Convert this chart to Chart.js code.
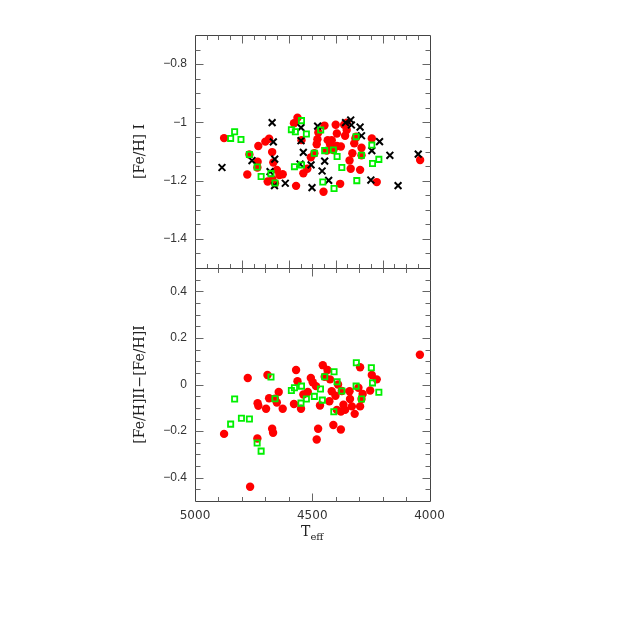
<!DOCTYPE html>
<html>
<head>
<meta charset="utf-8">
<title>[Fe/H] vs Teff</title>
<script src="https://cdn.jsdelivr.net/npm/chart.js@4.4.1/dist/chart.umd.min.js"></script>
<style>
  body { margin: 0; background: #fff; }
  #wrap { position: relative; width: 638px; height: 638px; }
  #wrap canvas { position: absolute; left: 0; top: 0; }
</style>
</head>
<body>
<div id="wrap">
  <canvas id="topChart" width="638" height="638"></canvas>
  <canvas id="botChart" width="638" height="638"></canvas>
</div>
<script>
// upper panel: [Fe/H] from Fe I lines
const topRedTeff = [4876, 4777, 4730, 4700, 4684, 4671, 4666, 4733, 4734, 4768, 4690, 4670, 4651, 4640,
  4626, 4659, 4569, 4563, 4578, 4546, 4538, 4506, 4521, 4481, 4478, 4474, 4448, 4452, 4434, 4424,
  4417, 4400, 4395, 4395, 4378, 4381, 4364, 4353, 4360, 4341, 4336, 4329, 4296, 4321, 4316, 4290,
  4246, 4225, 4040, 4410, 4491, 4290, 4313, 4438, 4353];
const topRedFe = [-1.054, -1.179, -1.081, -1.066, -1.056, -1.102, -1.138, -1.135, -1.155, -1.110, -1.203, -1.195, -1.163, -1.181,
  -1.178, -1.209, -1.218, -0.984, -1.003, -1.061, -1.175, -1.120, -1.159, -1.075, -1.058, -1.035, -1.011, -1.238, -1.061, -1.075,
  -1.061, -1.008, -1.038, -1.081, -1.083, -1.211, -1.008, -1.026, -1.046, -1.131, -1.159, -1.106, -1.163, -1.072, -1.055, -1.087,
  -1.055, -1.205, -1.129, -1.095, -1.106, -1.113, -1.049, -1.097, -1.001];

const topBlackTeff = [4885, 4671, 4666, 4757, 4660, 4680, 4661, 4615, 4548, 4548, 4538, 4552, 4505, 4501, 4477,
  4447, 4458, 4430, 4358, 4336, 4333, 4296, 4290, 4213, 4246, 4250, 4169, 4134, 4048];
const topBlackFe = [-1.155, -1.001, -1.067, -1.131, -1.126, -1.169, -1.217, -1.209, -1.018, -1.063, -1.103, -1.143, -1.146, -1.224, -1.013,
  -1.133, -1.167, -1.199, -1.001, -0.992, -1.009, -1.016, -1.046, -1.066, -1.097, -1.198, -1.113, -1.217, -1.109];

const topGreenTeff = [4848, 4831, 4804, 4768, 4735, 4718, 4676, 4659, 4589, 4572, 4546, 4525, 4576, 4546,
  4491, 4464, 4447, 4410, 4394, 4374, 4455, 4407, 4313, 4310, 4290, 4246, 4243, 4216];
const topGreenFe = [-1.055, -1.032, -1.059, -1.110, -1.153, -1.186, -1.176, -1.208, -1.025, -1.032, -0.994, -1.040, -1.152, -1.146,
  -1.106, -1.026, -1.097, -1.095, -1.117, -1.155, -1.205, -1.227, -1.049, -1.200, -1.113, -1.078, -1.141, -1.127];

// lower panel: [Fe/H]II - [Fe/H]I
const botRedTeff = [4041, 4775, 4691, 4876, 4765, 4733, 4730, 4697, 4734, 4671, 4667, 4684, 4651, 4643,
  4626, 4569, 4563, 4578, 4548, 4538, 4519, 4506, 4498, 4484, 4467, 4475, 4481, 4455, 4435, 4424,
  4417, 4427, 4401, 4390, 4395, 4378, 4410, 4378, 4367, 4360, 4341, 4339, 4331, 4319, 4296, 4285,
  4296, 4253, 4246, 4225, 4447, 4374, 4659, 4290, 4303];
const botRedDiff = [0.128, 0.028, 0.041, -0.212, -0.439, -0.080, -0.091, -0.104, -0.232, -0.190, -0.207, -0.059, -0.077, -0.032,
  -0.104, 0.062, 0.014, -0.084, -0.104, -0.043, -0.032, 0.028, 0.010, -0.007, -0.090, -0.190, -0.236, 0.083, 0.062, 0.022,
  -0.029, -0.072, -0.048, 0.000, -0.109, -0.116, -0.174, -0.193, -0.087, -0.109, -0.029, -0.062, -0.094, -0.126, 0.074, -0.041,
  -0.094, -0.026, 0.041, 0.022, 0.033, -0.028, -0.061, -0.062, -0.014];

const botGreenTeff = [4831, 4848, 4802, 4768, 4735, 4718, 4676, 4659, 4589, 4576, 4546, 4525, 4548, 4491,
  4465, 4457, 4447, 4407, 4394, 4374, 4408, 4312, 4313, 4290, 4248, 4243, 4216];
const botGreenDiff = [-0.062, -0.170, -0.145, -0.148, -0.251, -0.286, 0.032, -0.061, -0.026, -0.014, -0.007, -0.062, -0.080, -0.051,
  -0.019, -0.067, 0.033, 0.055, 0.012, -0.028, -0.117, 0.093, -0.007, -0.062, 0.072, 0.007, -0.033];

// tick labels
const xTicks = [5000, 4500, 4000];
const xTickLabels = ['5000', '4500', '4000'];
const topYTicks = [-0.8, -1, -1.2, -1.4];
const topYTickLabels = ['\u22120.8', '\u22121', '\u22121.2', '\u22121.4'];
const botYTicks = [0.4, 0.2, 0, -0.2, -0.4];
const botYTickLabels = ['0.4', '0.2', '0', '\u22120.2', '\u22120.4'];

function pts(xs, ys) {
  return xs.map((x, i) => ({ x: x, y: ys[i] }));
}

function steps(min, max, step) {
  const out = [];
  for (let i = Math.ceil(min / step - 1e-9); i <= Math.floor(max / step + 1e-9); i++) out.push(i * step);
  return out;
}

function isMult(v, m) {
  const r = v / m;
  return Math.abs(r - Math.round(r)) < 1e-6;
}

// frame with inward ticks on all four sides, plus axis titles
const framePlugin = {
  id: 'frame',
  afterDraw(chart, args, o) {
    const ctx = chart.ctx;
    const a = chart.chartArea;
    const xs = chart.scales.x, ys = chart.scales.y;
    const L = Math.round(a.left) + 0.5, R = Math.round(a.right) + 0.5;
    const T = Math.round(a.top) + 0.5, B = Math.round(a.bottom) + 0.5;
    ctx.save();
    ctx.strokeStyle = '#444';
    ctx.lineWidth = 1;
    ctx.beginPath();
    ctx.rect(L, T, R - L, B - T);
    ctx.stroke();

    ctx.strokeStyle = '#666';
    ctx.beginPath();
    steps(xs.min, xs.max, o.xMinor).forEach(v => {
      if (v === xs.min || v === xs.max) return;
      const p = Math.round(xs.getPixelForValue(v)) + 0.5;
      const len = isMult(v, o.xMajor) ? 8 : 4.5;
      ctx.moveTo(p, B); ctx.lineTo(p, B - len);
      ctx.moveTo(p, T); ctx.lineTo(p, T + len);
    });
    steps(ys.min, ys.max, o.yMinor).forEach(v => {
      const p = Math.round(ys.getPixelForValue(v)) + 0.5;
      if (Math.abs(p - T) < 1 || Math.abs(p - B) < 1) return;
      const len = isMult(v, o.yMajor) ? 8 : 5;
      ctx.moveTo(L, p); ctx.lineTo(L + len, p);
      ctx.moveTo(R, p); ctx.lineTo(R - len, p);
    });
    ctx.stroke();

    // y title
    ctx.fillStyle = '#222';
    ctx.font = '14px "DejaVu Serif"';
    ctx.textAlign = 'center';
    ctx.textBaseline = 'middle';
    ctx.translate(o.yTitleX, (a.top + a.bottom) / 2);
    ctx.rotate(-Math.PI / 2);
    ctx.fillText(o.yTitle, 0, 0);
    ctx.restore();

    // x title T_eff
    if (o.xTitle) {
      ctx.save();
      ctx.fillStyle = '#222';
      ctx.textBaseline = 'alphabetic';
      ctx.textAlign = 'left';
      ctx.font = '14px "DejaVu Serif"';
      const w1 = ctx.measureText(o.xTitle).width;
      ctx.font = '10px "DejaVu Serif"';
      const w2 = ctx.measureText(o.xTitleSub).width;
      const x0 = (a.left + a.right) / 2 - (w1 + w2) / 2;
      ctx.font = '14px "DejaVu Serif"';
      ctx.fillText(o.xTitle, x0, 536);
      ctx.font = '10px "DejaVu Serif"';
      ctx.fillText(o.xTitleSub, x0 + w1, 540);
      ctx.restore();
    }
  }
};

const redSet = (data) => ({
  data: data, order: 3, pointStyle: 'circle', pointRadius: 4.2,
  backgroundColor: '#ff0000', borderColor: '#ff0000', borderWidth: 0
});
const blackSet = (data) => ({
  data: data, order: 2, pointStyle: 'crossRot', pointRadius: 4.8,
  backgroundColor: '#000', borderColor: '#000', borderWidth: 2
});
const greenSet = (data) => ({
  data: data, order: 1, pointStyle: 'rect', pointRadius: 3.7,
  backgroundColor: 'rgba(0,0,0,0)', borderColor: '#00f000', borderWidth: 1.8
});

function yScale(min, max, ticks, labels) {
  return {
    type: 'linear', min: min, max: max,
    grid: { display: false, drawTicks: false },
    border: { display: false },
    afterFit: s => { s.width = 70; },
    afterBuildTicks: s => { s.ticks = ticks.map(v => ({ value: v })); },
    ticks: {
      padding: 8, color: '#333',
      font: { family: 'Liberation Sans', size: 12 },
      callback: v => labels[ticks.findIndex(t => Math.abs(t - v) < 1e-9)]
    }
  };
}

const common = {
  responsive: false,
  animation: false,
  events: [],
  plugins: { legend: { display: false }, tooltip: { enabled: false } }
};

new Chart(document.getElementById('topChart'), {
  type: 'scatter',
  data: {
    datasets: [
      redSet(pts(topRedTeff, topRedFe)),
      blackSet(pts(topBlackTeff, topBlackFe)),
      greenSet(pts(topGreenTeff, topGreenFe))
    ]
  },
  options: Object.assign({}, common, {
    layout: { padding: { left: 125, right: 208.5, top: 35, bottom: 370 } },
    scales: {
      x: { type: 'linear', min: 4000, max: 5000, reverse: true, display: false },
      y: yScale(-1.5, -0.7, topYTicks, topYTickLabels)
    },
    plugins: Object.assign({}, common.plugins, {
      frame: { xMinor: 50, xMajor: 200, yMinor: 0.05, yMajor: 0.2, yTitle: '[Fe/H] I', yTitleX: 140 }
    })
  }),
  plugins: [framePlugin]
});

new Chart(document.getElementById('botChart'), {
  type: 'scatter',
  data: {
    datasets: [
      redSet(pts(botRedTeff, botRedDiff)),
      greenSet(pts(botGreenTeff, botGreenDiff))
    ]
  },
  options: Object.assign({}, common, {
    layout: { padding: { left: 125, right: 208.5, top: 268, bottom: 92 } },
    scales: {
      x: {
        type: 'linear', min: 4000, max: 5000, reverse: true,
        grid: { display: false, drawTicks: false },
        border: { display: false },
        afterFit: s => { s.height = 45; },
        afterBuildTicks: s => { s.ticks = xTicks.map(v => ({ value: v })); },
        ticks: {
          padding: 8, color: '#333', maxRotation: 0,
          font: { family: 'DejaVu Sans', size: 12 },
          callback: v => xTickLabels[xTicks.indexOf(v)]
        }
      },
      y: yScale(-0.5, 0.5, botYTicks, botYTickLabels)
    },
    plugins: Object.assign({}, common.plugins, {
      frame: { xMinor: 100, xMajor: 500, yMinor: 0.05, yMajor: 0.2,
        yTitle: '[Fe/H]II\u2212[Fe/H]I', yTitleX: 140, xTitle: 'T', xTitleSub: 'eff' }
    })
  }),
  plugins: [framePlugin]
});
</script>
</body>
</html>
